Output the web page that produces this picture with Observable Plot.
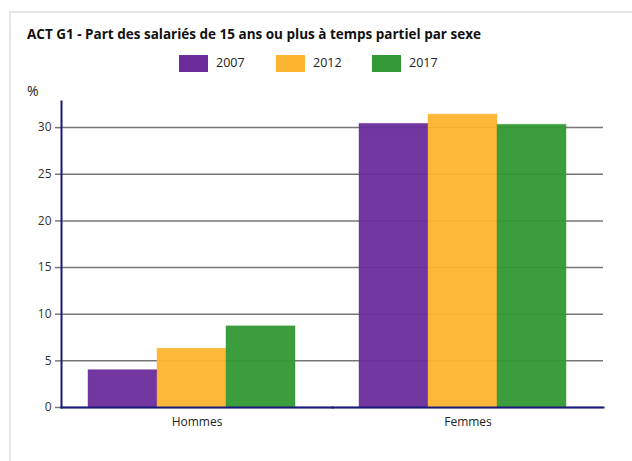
<!DOCTYPE html>
<html>
<head>
<meta charset="utf-8">
<script src="https://cdn.jsdelivr.net/npm/d3@7"></script>
<script src="https://cdn.jsdelivr.net/npm/@observablehq/plot@0.6"></script>
<style>
  body { margin: 0; background: #fff; font-family: "Open Sans", sans-serif; }
  #wrap { position: relative; width: 632px; height: 461px; overflow: hidden; }
  #box { position: absolute; left: 9px; top: 11px; width: 640px; height: 470px; border: 2px solid #e6e6e6; box-sizing: border-box; }
  #title { position: absolute; left: 27px; top: 25px; font-size: 13.5px; font-weight: 700; color: #111; white-space: nowrap; }
  .leg { position: absolute; top: 55px; height: 17px; width: 29px; }
  .legl { position: absolute; top: 54px; font-size: 12.5px; color: #222; }
  #unit { position: absolute; left: 27px; top: 81px; font-size: 14px; color: #222; }
  #chart { position: absolute; left: 0; top: 80px; }
</style>
</head>
<body>
<div id="wrap">
  <div id="box"></div>
  <div id="title">ACT G1 - Part des salariés de 15 ans ou plus à temps partiel par sexe</div>
  <div id="legend"></div>
  <div id="unit">%</div>
  <div id="chart"></div>
</div>
<script>
const groups = ["Hommes", "Femmes"];
const years = ["2007", "2012", "2017"];
const hommes = [4.0, 6.3, 8.7];
const femmes = [30.4, 31.4, 30.3];
const colors = ["#6c2c9c", "#fdb42f", "#319833"];
const yTicks = [0, 5, 10, 15, 20, 25, 30];

const series = [hommes, femmes];
const data = groups.flatMap((g, i) => years.map((y, j) => ({group: g, year: y, value: series[i][j]})));

// legend
const legend = document.getElementById("legend");
const legX = [179, 276, 372];
years.forEach((y, i) => {
  const sw = document.createElement("div");
  sw.className = "leg"; sw.style.left = legX[i] + "px"; sw.style.background = colors[i];
  const lb = document.createElement("div");
  lb.className = "legl"; lb.style.left = (legX[i] + 37) + "px"; lb.textContent = y;
  legend.appendChild(sw); legend.appendChild(lb);
});

const plot = Plot.plot({
  width: 632,
  height: 381,
  marginLeft: 61,
  marginRight: 29,
  marginTop: 21,
  marginBottom: 54,
  style: {fontFamily: "'Open Sans', sans-serif", fontSize: "12px", color: "#333", background: "transparent"},
  fx: {domain: groups, padding: 0, label: null},
  x: {domain: years, axis: null, paddingInner: 0, paddingOuter: 0.436, align: 0.42},
  y: {domain: [0, 32.8], axis: null},
  color: {domain: years, range: colors},
  marks: [
    Plot.ruleY(yTicks, {stroke: "#777", strokeWidth: 1.5}),
    Plot.axisY({ticks: yTicks, tickSize: 6, tickPadding: 4, stroke: "#777", strokeWidth: 1.5, fontSize: 12, fill: "#333", label: null}),
    Plot.barY(data, {fx: "group", x: "year", y: "value", fill: "year", fillOpacity: 0.95, stroke: "year", strokeOpacity: 0.4, strokeWidth: 1}),
    Plot.axisFx({anchor: "bottom", tickSize: 0, tickPadding: 10, fontSize: 12, fill: "#222", label: null}),
    Plot.frame({anchor: "bottom", stroke: "#1a1a7e", strokeWidth: 2}),
    Plot.frame({anchor: "left", facetAnchor: "left", stroke: "#1a1a7e", strokeWidth: 2})
  ]
});
document.getElementById("chart").appendChild(plot);
</script>
</body>
</html>
